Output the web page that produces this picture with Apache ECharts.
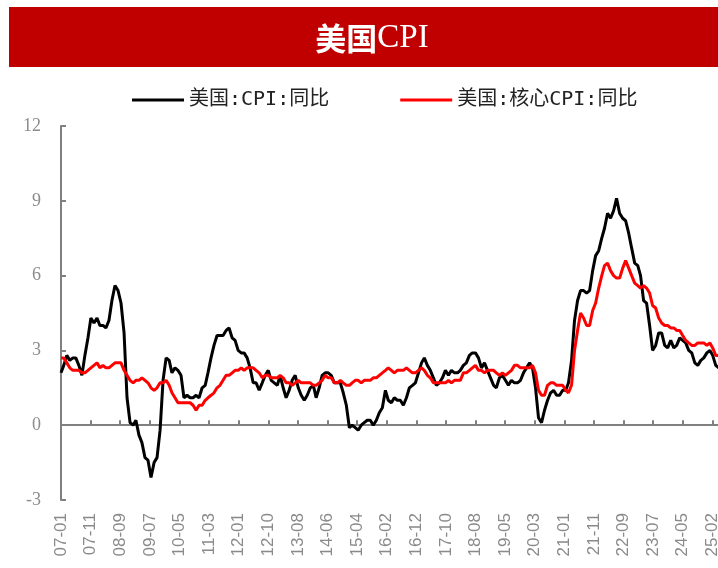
<!DOCTYPE html>
<html><head><meta charset="utf-8">
<script src="https://cdn.jsdelivr.net/npm/echarts@6/dist/echarts.min.js"></script>
<style>html,body{margin:0;padding:0;background:#fff}#c{width:718px;height:568px}</style>
</head><body><div id="c"></div>
<script>
// monthly, starting 2007-01
const startYear = 2007, startMonth = 1;
const cpi = [
 2.1,2.4,2.8,2.6,2.7,2.7,2.4,2.0,2.8,3.5,4.3,4.1,
 4.3,4.0,4.0,3.9,4.2,5.0,5.6,5.4,4.9,3.7,1.1,0.1,
 0.0,0.2,-0.4,-0.7,-1.3,-1.4,-2.1,-1.5,-1.3,-0.2,1.8,2.7,
 2.6,2.1,2.3,2.2,2.0,1.1,1.2,1.1,1.1,1.2,1.1,1.5,
 1.6,2.1,2.7,3.2,3.6,3.6,3.6,3.8,3.9,3.5,3.4,3.0,
 2.9,2.9,2.7,2.3,1.7,1.7,1.4,1.7,2.0,2.2,1.8,1.7,
 1.6,2.0,1.5,1.1,1.4,1.8,2.0,1.5,1.2,1.0,1.2,1.5,
 1.6,1.1,1.5,2.0,2.1,2.1,2.0,1.7,1.7,1.7,1.3,0.8,
 -0.1,0.0,-0.1,-0.2,0.0,0.1,0.2,0.2,0.0,0.2,0.5,0.7,
 1.4,1.0,0.9,1.1,1.0,1.0,0.8,1.1,1.5,1.6,1.7,2.1,
 2.5,2.7,2.4,2.2,1.9,1.6,1.7,1.9,2.2,2.0,2.2,2.1,
 2.1,2.2,2.4,2.5,2.8,2.9,2.9,2.7,2.3,2.5,2.2,1.9,
 1.6,1.5,1.9,2.0,1.8,1.6,1.8,1.7,1.7,1.8,2.1,2.3,
 2.5,2.3,1.5,0.3,0.1,0.6,1.0,1.3,1.4,1.2,1.2,1.4,
 1.4,1.7,2.6,4.2,5.0,5.4,5.4,5.3,5.4,6.2,6.8,7.0,
 7.5,7.9,8.5,8.3,8.6,9.1,8.5,8.3,8.2,7.7,7.1,6.5,
 6.4,6.0,5.0,4.9,4.0,3.0,3.2,3.7,3.7,3.2,3.1,3.4,
 3.1,3.2,3.5,3.4,3.3,3.0,2.9,2.5,2.4,2.6,2.7,2.9,
 3.0,2.8,2.4,2.3
];
const coreCpi = [
 2.7,2.7,2.5,2.3,2.2,2.2,2.2,2.1,2.1,2.2,2.3,2.4,
 2.5,2.3,2.4,2.3,2.3,2.4,2.5,2.5,2.5,2.2,2.0,1.8,
 1.7,1.8,1.8,1.9,1.8,1.7,1.5,1.4,1.5,1.7,1.7,1.8,
 1.6,1.3,1.1,0.9,0.9,0.9,0.9,0.9,0.8,0.6,0.8,0.8,
 1.0,1.1,1.2,1.3,1.5,1.6,1.8,2.0,2.0,2.1,2.2,2.2,
 2.3,2.2,2.3,2.3,2.3,2.2,2.1,1.9,2.0,2.0,1.9,1.9,
 1.9,2.0,1.9,1.7,1.7,1.6,1.7,1.8,1.7,1.7,1.7,1.7,
 1.6,1.6,1.7,1.8,2.0,1.9,1.9,1.7,1.7,1.8,1.7,1.6,
 1.6,1.7,1.8,1.8,1.7,1.8,1.8,1.8,1.9,1.9,2.0,2.1,
 2.2,2.3,2.2,2.1,2.2,2.2,2.2,2.3,2.2,2.1,2.1,2.2,
 2.3,2.2,2.0,1.9,1.7,1.7,1.7,1.7,1.7,1.8,1.7,1.8,
 1.8,1.8,2.1,2.1,2.2,2.3,2.4,2.2,2.2,2.1,2.2,2.2,
 2.2,2.1,2.0,2.1,2.0,2.1,2.2,2.4,2.4,2.3,2.3,2.3,
 2.3,2.4,2.1,1.4,1.2,1.2,1.6,1.7,1.7,1.6,1.6,1.6,
 1.4,1.3,1.6,3.0,3.8,4.5,4.3,4.0,4.0,4.6,4.9,5.5,
 6.0,6.4,6.5,6.2,6.0,5.9,5.9,6.3,6.6,6.3,6.0,5.7,
 5.6,5.5,5.6,5.5,5.3,4.8,4.7,4.3,4.1,4.0,4.0,3.9,
 3.9,3.8,3.8,3.6,3.4,3.3,3.2,3.2,3.3,3.3,3.3,3.2,
 3.3,3.1,2.8,2.8
];
const seriesNames = ['美国:CPI:同比', '美国:核心CPI:同比'];
const yTicks = [-3, 0, 3, 6, 9, 12];
// date axis: ticks every 300 days from 2007-01-31
const DAY = 86400000;
const axisMin = Date.UTC(2007, 0, 31);
const tickDays = 300;
const tickCount = 23;
const axisMax = axisMin + tickCount * tickDays * DAY;

// month-end dates for each observation
const dates = cpi.map((_, i) => Date.UTC(startYear, startMonth - 1 + i + 1, 0));
const pair = arr => arr.map((v, i) => [dates[i], v]);
const fmt = v => {
  if (v >= axisMax) return '';
  const d = new Date(v);
  const yy = String(d.getUTCFullYear() % 100).padStart(2, '0');
  const mm = String(d.getUTCMonth() + 1).padStart(2, '0');
  return yy + '-' + mm;
};

const chart = echarts.init(document.getElementById('c'), null, {renderer: 'canvas'});
const xBase = {
  type: 'value', min: axisMin, max: axisMax,
  interval: tickDays * DAY, splitLine: {show: false}, position: 'bottom'
};
chart.setOption({
  animation: false,
  backgroundColor: '#fff',
  graphic: [
    {type: 'rect', shape: {x: 9, y: 7, width: 720, height: 60}, style: {fill: '#C00000'}},
    {type: 'text', x: 372, y: 38, style: {
      text: '{a|美国}{b|CPI}', align: 'center', verticalAlign: 'middle',
      rich: {
        a: {fontFamily: 'Noto Sans CJK SC', fontWeight: 'bold', fontSize: 31, fill: '#fff', color: '#fff'},
        b: {fontFamily: 'Liberation Serif', fontSize: 33, fill: '#fff', color: '#fff'}
      }
    }}
  ],
  legend: {
    left: 127, top: 85, itemWidth: 52, itemHeight: 3, itemGap: 71, icon: 'rect',
    textStyle: {fontFamily: 'DejaVu Sans Mono, Noto Sans CJK SC', fontSize: 20, color: '#222'},
    data: seriesNames
  },
  grid: {left: 61, width: 681, top: 126, height: 374, containLabel: false, outerBoundsMode: 'none'},
  xAxis: [
    Object.assign({}, xBase, {
      axisLine: {onZero: true, lineStyle: {color: '#808080', width: 2}},
      axisTick: {show: true, inside: true, length: 5, lineStyle: {color: '#808080', width: 2}},
      axisLabel: {show: false}
    }),
    Object.assign({}, xBase, {
      axisLine: {show: false, onZero: false},
      axisTick: {show: false},
      axisLabel: {show: true, rotate: 90, margin: 13, color: '#8a8a8a', fontSize: 17,
        fontFamily: 'Liberation Sans', formatter: fmt, showMaxLabel: false, hideOverlap: false}
    })
  ],
  yAxis: {
    type: 'value', min: yTicks[0], max: yTicks[yTicks.length - 1], interval: 3,
    splitLine: {show: false},
    axisLine: {show: true, lineStyle: {color: '#808080', width: 2}},
    axisTick: {show: true, inside: true, length: 5, lineStyle: {color: '#808080', width: 2}},
    axisLabel: {color: '#8c8c8c', fontSize: 18, fontFamily: 'Liberation Serif', margin: 20}
  },
  series: [
    {name: seriesNames[0], type: 'line', data: pair(cpi), showSymbol: false, symbol: 'none',
     xAxisIndex: 0, color: '#000000', lineStyle: {color: '#000000', width: 3}},
    {name: seriesNames[1], type: 'line', data: pair(coreCpi), showSymbol: false, symbol: 'none',
     xAxisIndex: 0, color: '#ff0000', lineStyle: {color: '#ff0000', width: 3}}
  ]
});
</script></body></html>
